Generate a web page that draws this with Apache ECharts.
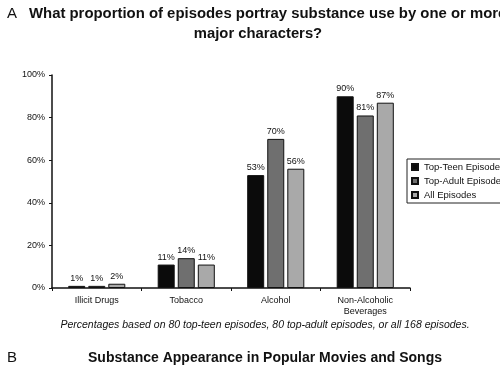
<!DOCTYPE html>
<html><head><meta charset="utf-8">
<script src="https://cdn.jsdelivr.net/npm/echarts@6/dist/echarts.min.js"></script>
<style>html,body{margin:0;padding:0;background:#fff}#c{width:500px;height:378px}</style>
</head><body><div id="c"></div>
<script>
const categories = ['Illicit Drugs', 'Tobacco', 'Alcohol', 'Non-Alcoholic\nBeverages'];
const seriesNames = ['Top-Teen Episodes', 'Top-Adult Episodes', 'All Episodes'];
const topTeen = [1, 11, 53, 90];
const topAdult = [1, 14, 70, 81];
const allEpisodes = [2, 11, 56, 87];
const yTicks = [0, 20, 40, 60, 80, 100];
const colors = ['#0b0b0b', '#6f6f6f', '#a9a9a9'];
const seriesData = [topTeen, topAdult, allEpisodes];

const FONT = 'Liberation Sans';
function txt(text, x, y, font, align) {
  return {type: 'text', x, y, silent: true,
    style: {text, font, fill: '#111', textAlign: align || 'left', textVerticalAlign: 'middle'}};
}
const chart = echarts.init(document.getElementById('c'), null, {renderer: 'canvas'});
chart.setOption({
  backgroundColor: '#fff',
  animation: false,
  textStyle: {fontFamily: FONT},
  graphic: [
    txt('A', 7, 14, 'normal 15px "Liberation Sans"'),
    txt('What proportion of episodes portray substance use by one or more', 29, 14, 'bold 14.9px "Liberation Sans"'),
    txt('major characters?', 258, 34, 'bold 14.8px "Liberation Sans"', 'center'),
    txt('Percentages based on 80 top-teen episodes, 80 top-adult episodes, or all 168 episodes.', 265, 325, 'italic 10.5px "Liberation Sans"', 'center'),
    txt('B', 7, 358, 'normal 15px "Liberation Sans"'),
    txt('Substance Appearance in Popular Movies and Songs', 265, 358, 'bold 14px "Liberation Sans"', 'center')
  ],
  legend: {
    data: seriesNames,
    orient: 'vertical',
    left: 407, top: 159,
    itemWidth: 6, itemHeight: 6, itemGap: 4,
    icon: 'rect',
    borderColor: '#222', borderWidth: 1,
    padding: [3, 6, 3, 4],
    textStyle: {fontFamily: FONT, fontSize: 9.5, color: '#111', padding: [0, 0, 0, 1]}
  },
  grid: {left: 52, right: 90, top: 75, bottom: 90, containLabel: false},
  xAxis: {
    type: 'category', data: categories,
    axisLine: {lineStyle: {color: '#111', width: 1.5}},
    axisTick: {show: true, length: 3, lineStyle: {color: '#111'}},
    axisLabel: {fontFamily: FONT, fontSize: 9, color: '#111', margin: 7, lineHeight: 11}
  },
  yAxis: {
    type: 'value', min: 0, max: 100, interval: 20,
    axisLine: {show: true, lineStyle: {color: '#111', width: 1.5}},
    axisTick: {show: true, length: 3, lineStyle: {color: '#111'}},
    splitLine: {show: false},
    axisLabel: {fontFamily: FONT, fontSize: 9, color: '#111', margin: 7, formatter: v => yTicks.includes(v) ? v + '%' : ''}
  },
  series: seriesNames.map((name, i) => ({
    name, type: 'bar', data: seriesData[i],
    barWidth: 17, barGap: '18%',
    itemStyle: {color: colors[i], borderColor: '#111', borderWidth: 1},
    label: {show: true, position: 'top', distance: 3, fontFamily: FONT, fontSize: 9, color: '#111', formatter: p => p.value + '%'}
  }))
});
</script></body></html>
